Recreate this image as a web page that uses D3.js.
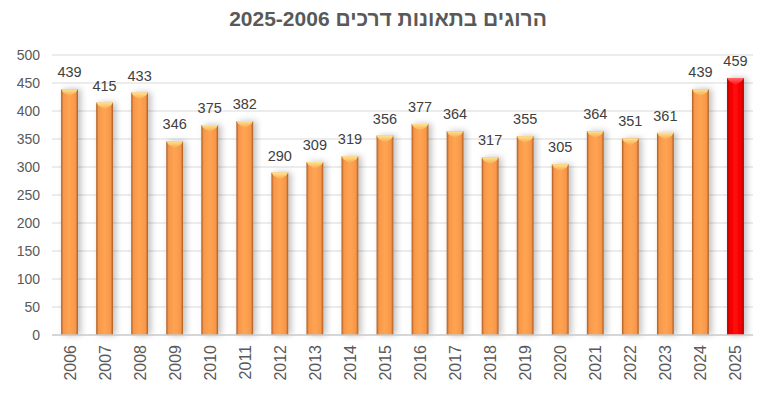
<!DOCTYPE html>
<html>
<head>
<meta charset="utf-8">
<script src="https://cdn.jsdelivr.net/npm/d3@7"></script>
<style>
  body { margin: 0; background: #fff; }
  text { font-family: "Liberation Sans", Arial, sans-serif; }
</style>
</head>
<body>
<div class="chart"></div>
<script>
const years = ["2006","2007","2008","2009","2010","2011","2012","2013","2014","2015",
               "2016","2017","2018","2019","2020","2021","2022","2023","2024","2025"];
const deaths = [439,415,433,346,375,382,290,309,319,356,377,364,317,355,305,364,351,361,439,459];
const yTicks = [0,50,100,150,200,250,300,350,400,450,500];
const highlightYear = "2025";

const width = 771, height = 393;
const margin = {top: 55, right: 18, bottom: 58, left: 52};

const svg = d3.select(".chart").append("svg")
    .attr("width", width)
    .attr("height", height);

const defs = svg.append("defs");

// gradients for the bevelled bars
function barGradient(id, edge, mid, light) {
    const g = defs.append("linearGradient").attr("id", id)
        .attr("x1", "0%").attr("x2", "100%").attr("y1", "0%").attr("y2", "0%");
    g.append("stop").attr("offset", "0%").attr("stop-color", edge);
    g.append("stop").attr("offset", "14%").attr("stop-color", mid);
    g.append("stop").attr("offset", "50%").attr("stop-color", light);
    g.append("stop").attr("offset", "86%").attr("stop-color", mid);
    g.append("stop").attr("offset", "100%").attr("stop-color", edge);
}
barGradient("orangeBar", "#a95a22", "#f7974a", "#ffa452");
barGradient("redBar", "#a00000", "#f00000", "#ff0a0a");

function capGradient(id, c1, c2) {
    const g = defs.append("linearGradient").attr("id", id)
        .attr("x1", "0%").attr("x2", "0%").attr("y1", "0%").attr("y2", "100%");
    g.append("stop").attr("offset", "0%").attr("stop-color", c1);
    g.append("stop").attr("offset", "100%").attr("stop-color", c2);
}
capGradient("orangeCap", "#ffe390", "#f7a54c");
capGradient("redCap", "#ff6a6a", "#ff1010");

const shadow = defs.append("filter").attr("id", "shadow")
    .attr("x", "-50%").attr("y", "-10%").attr("width", "200%").attr("height", "120%");
shadow.append("feDropShadow")
    .attr("dx", 3).attr("dy", 0).attr("stdDeviation", 3)
    .attr("flood-color", "#000").attr("flood-opacity", 0.25);

const x = d3.scaleBand()
    .domain(years)
    .range([margin.left, width - margin.right])
    .paddingInner(0.52)
    .paddingOuter(0.26);

const y = d3.scaleLinear()
    .domain([0, 500])
    .range([height - margin.bottom, margin.top]);

// title
svg.append("text")
    .attr("x", 388)
    .attr("y", 26)
    .attr("text-anchor", "middle")
    .attr("direction", "rtl")
    .attr("font-size", 21)
    .attr("font-weight", "bold")
    .attr("fill", "#595959")
    .text("הרוגים בתאונות דרכים 2025-2006");

// gridlines
svg.append("g")
    .selectAll("line")
    .data(yTicks.filter(d => d > 0))
    .join("line")
    .attr("x1", margin.left)
    .attr("x2", width - margin.right)
    .attr("y1", d => y(d))
    .attr("y2", d => y(d))
    .attr("stroke", "#d9d9d9")
    .attr("stroke-width", 1);

// y axis
const yAxis = svg.append("g")
    .attr("transform", `translate(${margin.left - 12},0)`)
    .call(d3.axisLeft(y).tickValues(yTicks).tickSize(0).tickPadding(0));
yAxis.select(".domain").remove();
yAxis.selectAll("text")
    .attr("font-size", 14)
    .attr("fill", "#595959")
    .style("font-family", "'Liberation Sans', Arial, sans-serif");

// bars
const bars = svg.append("g")
    .selectAll("g")
    .data(years.map((yr, i) => ({year: yr, value: deaths[i]})))
    .join("g");

bars.append("rect")
    .attr("x", d => x(d.year))
    .attr("y", d => y(d.value))
    .attr("width", x.bandwidth())
    .attr("height", d => y(0) - y(d.value))
    .attr("fill", d => d.year === highlightYear ? "url(#redBar)" : "url(#orangeBar)")
    .attr("filter", "url(#shadow)");

// bevel on top of each bar
bars.append("path")
    .attr("d", d => {
        const x0 = x(d.year), w = x.bandwidth(), t = y(d.value);
        return `M${x0},${t} L${x0 + w},${t} L${x0 + w - 2},${t + 3} L${x0 + w / 2},${t + 7} L${x0 + 2},${t + 3} Z`;
    })
    .attr("fill", d => d.year === highlightYear ? "url(#redCap)" : "url(#orangeCap)");

// value labels
bars.append("text")
    .attr("x", d => x(d.year) + x.bandwidth() / 2)
    .attr("y", d => y(d.value) - 12)
    .attr("text-anchor", "middle")
    .attr("font-size", 14.5)
    .attr("fill", "#404040")
    .text(d => d.value);

// x axis baseline
svg.append("line")
    .attr("x1", margin.left)
    .attr("x2", width - margin.right)
    .attr("y1", y(0))
    .attr("y2", y(0))
    .attr("stroke", "#c8c8c8")
    .attr("stroke-width", 1.5);

// year labels, rotated
svg.append("g")
    .selectAll("text")
    .data(years)
    .join("text")
    .attr("transform", d => `translate(${x(d) + x.bandwidth() / 2 + 6},${y(0) + 10}) rotate(-90)`)
    .attr("text-anchor", "end")
    .attr("font-size", 16)
    .attr("fill", "#595959")
    .text(d => d);
</script>
</body>
</html>
